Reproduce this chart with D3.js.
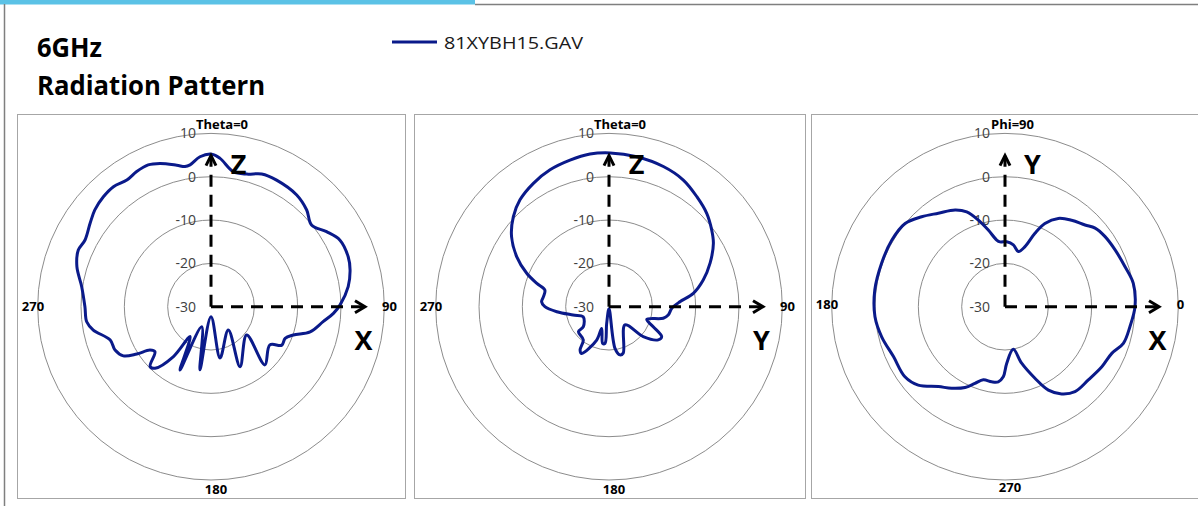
<!DOCTYPE html>
<html>
<head>
<meta charset="utf-8">
<script src="https://cdn.jsdelivr.net/npm/d3@7"></script>
<style>
  html, body { margin: 0; padding: 0; background: #ffffff; }
  svg { display: block; }
</style>
</head>
<body>
<div id="chart"></div>
<script>
// ---------------- DATA ----------------
const titleLines = ["6GHz", "Radiation Pattern"];
const seriesName = "81XYBH15.GAV";

const ringValues = [-30, -20, -10, 0, 10];      // radial tick labels (dB)
const gridRings = [-20, -10, 0, 10];            // drawn circles

const panelTopLabels = ["Theta=0", "Theta=0", "Phi=90"];
const panelBottomLabels = ["180", "180", "270"];
const panelLeftLabels = ["270", "270", "180"];
const panelRightLabels = ["90", "90", "0"];
const axisUpLetters = ["Z", "Z", "Y"];
const axisRightLetters = ["X", "Y", "X"];

// Panel 1 : XZ cut (angle clockwise from top, deg ; gain dBi)
const p1Angle = [0.3, 3.5, 9.4, 15.1, 20.9, 27.4, 37.5, 44.7, 50.9, 57.0, 62.7, 70.0, 75.2, 81.7, 89.2, 93.1, 97.6, 104.2, 109, 113.1, 118.5, 123, 137.2, 128.4, 154.2, 143.4, 170, 180, 189.9, 204.9, 206.1, 215, 217, 222.3, 225.5, 231.2, 234.6, 237.5, 240.7, 245.7, 251.7, 258.8, 263.1, 270, 278.8, 286.6, 293.1, 297.9, 304.6, 309.8, 315.6, 320.9, 326.4, 331.2, 336.1, 340.4, 346.4, 349.5, 351.6, 355.8];
const p1Gain  = [5.2, 4.3, 1.6, 1.7, 2.8, 2.9, 2.5, 1.4, -0.1, 1.8, 3.5, 3.7, 3.2, 2.0, -0.2, -1.7, -3.9, -6.4, -9.9, -11.4, -11.4, -13.8, -11.7, -19.5, -14.6, -23.3, -18.0, -27.7, -15.2, -24.9, -13.7, -21.6, -15.6, -10.8, -10.3, -13.4, -12.7, -9.7, -6.8, -5.7, -5.5, -2.3, -1.1, -0.9, 0.2, 2.3, 3.3, 2.9, 3.9, 4.9, 5.5, 5.7, 5.1, 5.6, 5.8, 5.1, 3.6, 2.9, 3.1, 4.7];

// Panel 2 : YZ cut (angle clockwise from top, deg ; gain dBi)
const p2Angle = [0.4, 10.5, 21.2, 30.4, 38.6, 46.3, 53.2, 58.7, 66.7, 74.2, 81, 86, 91.5, 98, 102, 108.5, 114.3, 119.7, 124, 131.2, 138.8, 163, 167.2, 171.8, 180, 187.9, 186.2, 189.8, 198.7, 200.3, 210.4, 213.8, 217.7, 230.8, 232.1, 248.7, 256.9, 264.5, 270, 274.2, 278.7, 284.6, 287.9, 292.1, 298.4, 305.7, 313.2, 320.2, 328.5, 336.7, 345.1, 352.9];
const p2Gain  = [5.5, 5.2, 4.7, 3.9, 2.5, 1.2, -0.4, -1.8, -4.6, -7.4, -10.3, -13.6, -15.5, -16.2, -17.2, -20.8, -18.8, -16, -16.3, -19.5, -24.4, -18.8, -18.6, -20.3, -29.5, -26.1, -21.5, -21.4, -24.7, -21.8, -17.5, -18, -20.3, -20.9, -22.5, -23.6, -21.5, -17.9, -15.2, -14.4, -14.7, -14.7, -12.5, -9.5, -5.8, -2.3, 0.3, 2.1, 3.4, 4.4, 5.0, 5.5];

// Panel 3 : XY cut (phi counter-clockwise from X axis, deg ; gain dBi)
const p3Angle = [0, 10.3, 18.4, 27.3, 35, 41.1, 45.6, 52.4, 58.9, 64.4, 67.8, 71.6, 76.4, 82.3, 88.5, 94.4, 97.1, 102.3, 107.1, 112, 117.3, 125.5, 132.8, 140.2, 149.5, 160.6, 172.7, 184.4, 193.7, 204.1, 215, 222.1, 230.2, 236.8, 243.7, 248.6, 253.5, 259.9, 264.9, 268.6, 271.7, 281, 286.4, 292.7, 297.5, 303, 309.5, 318.7, 328.2, 336.4, 342.8, 350.9];
const p3Gain  = [0.0, 0.1, -0.8, -1.4, -1.8, -2.4, -3.6, -4.8, -6.2, -8.7, -11.7, -15.4, -16.9, -15.6, -15, -15, -14.5, -11.9, -9.1, -6.4, -4.9, -3.5, -1.7, 0.0, 0.3, 0.2, 0.3, 0.1, -0.7, -1.8, -1.8, -3, -6, -7.5, -9.2, -11, -12.4, -12.4, -12.6, -13.8, -16.9, -20, -16.4, -12.1, -8.3, -6, -4.6, -4.4, -3.7, -3.1, -1.4, -0.8];

// ---------------- DRAWING ----------------
const W = 1198, H = 506;
const LINE_COLOR = "#0a1a8a";
const FONT = "'Open Sans', 'Noto Sans', sans-serif";

const svg = d3.select("#chart").append("svg")
  .attr("width", W).attr("height", H)
  .attr("viewBox", `0 0 ${W} ${H}`);

svg.append("rect").attr("width", W).attr("height", H).attr("fill", "#ffffff");

// outer frame
svg.append("rect").attr("x", 0).attr("y", 0).attr("width", 475).attr("height", 4.5).attr("fill", "#5bc2e6");
svg.append("line").attr("x1", 475).attr("x2", W).attr("y1", 4.5).attr("y2", 4.5)
  .attr("stroke", "#7f7f7f").attr("stroke-width", 1.5);
svg.append("line").attr("x1", 4.5).attr("x2", 4.5).attr("y1", 4).attr("y2", H)
  .attr("stroke", "#7f7f7f").attr("stroke-width", 1.5);

// titles
svg.append("text").attr("x", 37).attr("y", 57)
  .attr("font-family", FONT).attr("font-weight", 700).attr("font-size", 26)
  .attr("textLength", 65).attr("lengthAdjust", "spacingAndGlyphs")
  .attr("fill", "#000").text(titleLines[0]);
svg.append("text").attr("x", 37).attr("y", 95)
  .attr("font-family", FONT).attr("font-weight", 700).attr("font-size", 26)
  .attr("textLength", 228).attr("lengthAdjust", "spacingAndGlyphs")
  .attr("fill", "#000").text(titleLines[1]);

// legend
svg.append("line").attr("x1", 392).attr("x2", 437).attr("y1", 42).attr("y2", 42)
  .attr("stroke", LINE_COLOR).attr("stroke-width", 3);
svg.append("text").attr("x", 444).attr("y", 48.5)
  .attr("font-family", FONT).attr("font-size", 17)
  .attr("textLength", 139).attr("lengthAdjust", "spacingAndGlyphs")
  .attr("fill", "#1a1a1a").text(seriesName);

// panels
const CY = 306.7, R = 173.3;
const panels = [
  { bx: 17.5, bw: 388, cx: 211, angles: p1Angle, gains: p1Gain, ccw: false },
  { bx: 414.5, bw: 391, cx: 609, angles: p2Angle, gains: p2Gain, ccw: false },
  { bx: 811.5, bw: 400, cx: 1005, angles: p3Angle, gains: p3Gain, ccw: true }
];

const rScale = d3.scaleLinear().domain([-30, 10]).range([0, R]);

panels.forEach((p, i) => {
  svg.append("rect").attr("x", p.bx).attr("y", 114.5).attr("width", p.bw).attr("height", 384)
    .attr("fill", "#fff").attr("stroke", "#a6a6a6").attr("stroke-width", 1);

  const g = svg.append("g").attr("transform", `translate(${p.cx},${CY})`);

  const aScale = d3.scaleLinear().domain([0, 360])
    .range(p.ccw ? [Math.PI / 2, Math.PI / 2 - 2 * Math.PI] : [0, 2 * Math.PI]);

  g.selectAll("circle.ring").data(gridRings).enter().append("circle")
    .attr("class", "ring").attr("r", d => rScale(d))
    .attr("fill", "none").attr("stroke", "#8c8c8c").attr("stroke-width", 1);

  g.selectAll("text.tick").data(ringValues).enter().append("text")
    .attr("class", "tick")
    .attr("x", -15).attr("y", d => -rScale(d))
    .attr("dy", "0.35em").attr("text-anchor", "end")
    .attr("font-family", FONT).attr("font-size", 14).attr("fill", "#404040")
    .text(d => d);

  // pattern
  const pts = p.angles.map((a, k) => [a, p.gains[k]]);
  const line = d3.lineRadial()
    .angle(d => aScale(d[0]))
    .radius(d => rScale(d[1]))
    .curve(d3.curveCatmullRomClosed.alpha(0.5));
  g.append("path").attr("d", line(pts))
    .attr("fill", "none").attr("stroke", LINE_COLOR).attr("stroke-width", 3)
    .attr("stroke-linejoin", "round");

  // dashed axes
  g.append("line").attr("x1", 0).attr("y1", 0).attr("x2", 0).attr("y2", -151)
    .attr("stroke", "#000").attr("stroke-width", 3).attr("stroke-dasharray", "12,8");
  g.append("line").attr("x1", 0).attr("y1", 0).attr("x2", 154).attr("y2", 0)
    .attr("stroke", "#000").attr("stroke-width", 3).attr("stroke-dasharray", "12,8");
  g.append("path").attr("d", "M-5,-141 L0,-151 L5,-141")
    .attr("fill", "none").attr("stroke", "#000").attr("stroke-width", 3);
  g.append("path").attr("d", "M144,-6 L154,0 L144,6")
    .attr("fill", "none").attr("stroke", "#000").attr("stroke-width", 3);

  // axis letters
  g.append("text").attr("x", 27.5).attr("y", -142).attr("dy", "0.36em")
    .attr("text-anchor", "middle").attr("font-family", FONT).attr("font-weight", 700)
    .attr("font-size", 27).text(axisUpLetters[i]);
  g.append("text").attr("x", 152.5).attr("y", 34).attr("dy", "0.36em")
    .attr("text-anchor", "middle").attr("font-family", FONT).attr("font-weight", 700)
    .attr("font-size", 27).text(axisRightLetters[i]);

  // angle labels
  const lab = (x, y, t) => g.append("text").attr("x", x).attr("y", y).attr("dy", "0.35em")
    .attr("text-anchor", "middle").attr("font-family", FONT).attr("font-weight", 700)
    .attr("font-size", 13).attr("fill", "#000").text(t);
  lab(p.ccw ? 7.5 : 11, -182.5, panelTopLabels[i]);
  lab(5, p.ccw ? 180.5 : 183, panelBottomLabels[i]);
  lab(-178, p.ccw ? -2.5 : 0, panelLeftLabels[i]);
  lab(p.ccw ? 175.5 : 178.5, p.ccw ? -2.5 : 0, panelRightLabels[i]);
});
</script>
</body>
</html>
